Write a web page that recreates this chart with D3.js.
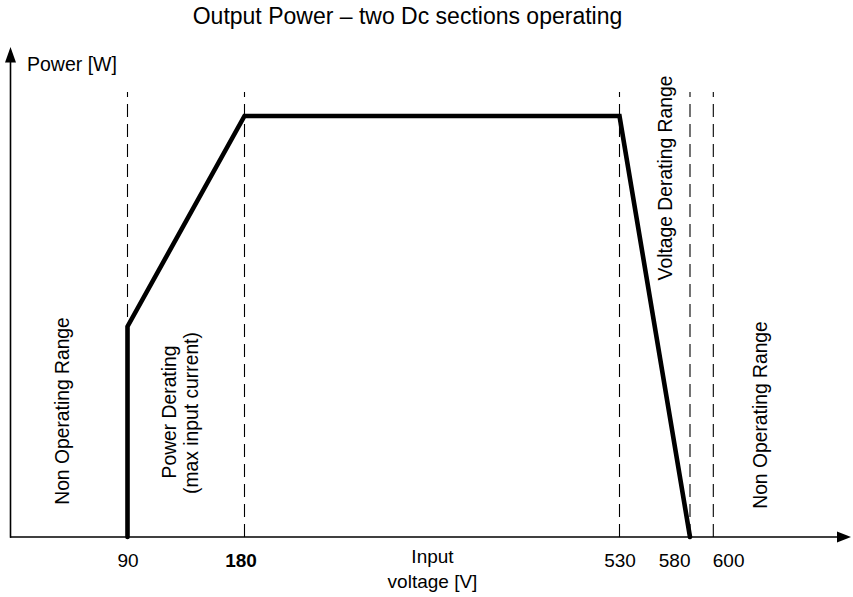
<!DOCTYPE html>
<html>
<head>
<meta charset="utf-8">
<script src="https://cdn.jsdelivr.net/npm/d3@7"></script>
<style>
  html, body { margin: 0; padding: 0; background: #fff; }
  svg { display: block; font-family: "Liberation Sans", Arial, Helvetica, sans-serif; }
  text { fill: #000; }
</style>
</head>
<body>
<svg id="chart" width="853" height="597"></svg>
<script>
// Input voltage breakpoints of the output power curve [V]
const curveVoltage = [90, 90, 180, 530, 580];
// Output power at those breakpoints, as % of rated power
const curvePower = [0, 50, 100, 100, 0];
// Voltages marked with dashed guide lines and tick labels
const tickVoltages = [90, 180, 530, 580, 600];
const tickLabels = ["90", "180", "530", "580", "600"];
const boldTicks = ["180"];
// Range annotations
const regionLabels = ["Non Operating Range", "Voltage Derating Range", "Non Operating Range"];
const deratingLines = ["Power Derating", "(max input current)"];

const svg = d3.select("#chart");
const originX = 10, axisY = 537, axisEndX = 851, axisTopY = 47;

// The voltage axis is drawn piecewise (not to scale) between breakpoints
const x = d3.scaleLinear()
  .domain([0, 90, 180, 530, 580, 600])
  .range([originX, 127.5, 244.5, 619.5, 690, 713.3]);
const y = d3.scaleLinear().domain([0, 100]).range([axisY, 116]);

// Title
svg.append("text")
  .attr("x", 407.5).attr("y", 24)
  .attr("text-anchor", "middle")
  .style("font-size", "23px")
  .text("Output Power \u2013 two Dc sections operating");

// Dashed guide lines
svg.append("g").selectAll("line")
  .data(tickVoltages)
  .join("line")
  .attr("x1", d => x(d)).attr("x2", d => x(d))
  .attr("y1", axisY).attr("y2", 92)
  .attr("stroke", "#000").attr("stroke-width", 1.1)
  .attr("stroke-dasharray", "13,7");

// Axes lines
svg.append("line")
  .attr("x1", originX).attr("x2", axisEndX - 12)
  .attr("y1", axisY).attr("y2", axisY)
  .attr("stroke", "#000").attr("stroke-width", 1.6);
svg.append("line")
  .attr("x1", originX + 0.5).attr("x2", originX + 0.5)
  .attr("y1", axisY + 0.8).attr("y2", axisTopY + 12)
  .attr("stroke", "#000").attr("stroke-width", 1.6);
// Arrowheads
svg.append("path")
  .attr("d", `M${axisEndX},${axisY} L${axisEndX - 14},${axisY - 5.5} L${axisEndX - 14},${axisY + 5.5} Z`)
  .attr("fill", "#000");
svg.append("path")
  .attr("d", `M${originX + 0.5},${axisTopY} L${originX - 5},${axisTopY + 15.5} L${originX + 6},${axisTopY + 15.5} Z`)
  .attr("fill", "#000");

// Axis labels
svg.append("text")
  .attr("x", 27).attr("y", 71)
  .style("font-size", "19.5px")
  .text("Power [W]");
const inputLabel = svg.append("text")
  .attr("x", 432.5).attr("y", 563)
  .attr("text-anchor", "middle")
  .style("font-size", "19px");
inputLabel.append("tspan").attr("x", 432.5).text("Input");
inputLabel.append("tspan").attr("x", 432.5).attr("dy", 25).text("voltage [V]");

// Tick labels via a bottom axis; the two close labels at 580/600 sit
// on either side of their guide lines so they do not collide
const xAxis = d3.axisBottom(x)
  .tickValues(tickVoltages)
  .tickFormat((d, i) => tickLabels[i])
  .tickSize(0)
  .tickPadding(16.5);
const gx = svg.append("g").attr("transform", `translate(0,${axisY})`).call(xAxis);
gx.select(".domain").remove();
gx.attr("font-size", null).attr("font-family", null);
gx.selectAll("text")
  .attr("fill", "#000")
  .attr("text-anchor", d => d === 580 ? "end" : d === 600 ? "start" : "middle")
  .attr("x", d => d === 180 ? -4 : d === 600 ? -1 : 0)
  .style("font-size", "19px")
  .style("font-weight", d => boldTicks.includes(String(d)) ? "bold" : "normal");

// Output power curve
const line = d3.line()
  .x(d => x(d[0]))
  .y(d => y(d[1]));
svg.append("path")
  .datum(d3.zip(curveVoltage, curvePower))
  .attr("d", line)
  .attr("fill", "none")
  .attr("stroke", "#000")
  .attr("stroke-width", 4.6)
  .attr("stroke-linejoin", "miter")
  .attr("stroke-linecap", "round");

// Rotated range annotations
function vText(bx, cy, str) {
  svg.append("text")
    .attr("transform", `translate(${bx},${cy}) rotate(-90)`)
    .attr("text-anchor", "middle")
    .style("font-size", "19.3px")
    .text(str);
}
vText(69, 411, regionLabels[0]);
vText(671.5, 178, regionLabels[1]);
vText(766.5, 415, regionLabels[2]);
vText(175.6, 412, deratingLines[0]);
vText(198, 413, deratingLines[1]);
</script>
</body>
</html>
